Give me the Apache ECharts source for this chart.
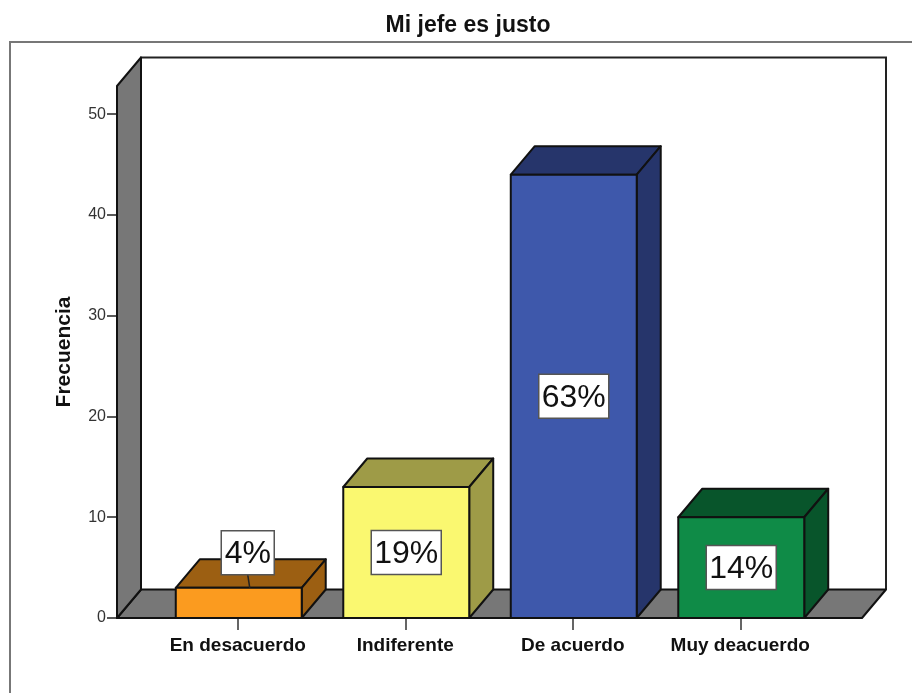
<!DOCTYPE html>
<html><head><meta charset="utf-8">
<style>html,body{margin:0;padding:0;background:#fff}#c{width:912px;height:693px}</style>
<script src="https://cdn.jsdelivr.net/npm/echarts@6/dist/echarts.min.js"></script>
</head><body><div id="c"></div>
<script>
const chartTitle = 'Mi jefe es justo';
const yName = 'Frecuencia';
const categories = ['En desacuerdo', 'Indiferente', 'De acuerdo', 'Muy deacuerdo'];
const frequencies = [3, 13, 44, 10];
const percentLabels = ['4%', '19%', '63%', '14%'];
const yTicks = [0, 10, 20, 30, 40, 50];
const frontColors = ['#FB9B1F', '#FAF870', '#3E58AB', '#0F8B47'];
const sideColors = ['#9C5F12', '#9E9B47', '#26356B', '#08552B'];

const FONT = '"Liberation Sans", Arial, sans-serif';
const DX = 24, DY = 28.5, AXIS_OFFSET = 37, FLOOR_RIGHT = 38;
const BAR_RATIO = 0.752, BAR_SHIFT = 1;
const LINE = { stroke: '#111', lineWidth: 2, lineJoin: 'round' };

function poly(points, fill, z2) {
  return { type: 'polygon', z2: z2 || 0, shape: { points },
    style: Object.assign({ fill }, LINE) };
}

function renderWalls(params, api) {
  const r = params.coordSys;
  const l = r.x - AXIS_OFFSET, b = r.y + r.height, t = r.y, rr = r.x + r.width + FLOOR_RIGHT;
  return { type: 'group', children: [
    { type: 'polyline', shape: { points: [[l + DX, b - DY], [l + DX, t - DY], [rr + DX, t - DY], [rr + DX, b - DY]] },
      style: { fill: '#fff', stroke: '#222', lineWidth: 2 } },
    poly([[l, b], [l + DX, b - DY], [rr + DX, b - DY], [rr, b]], '#777'),
    poly([[l, b], [l + DX, b - DY], [l + DX, t - DY], [l, t]], '#777')
  ] };
}

function renderBar(params, api) {
  const i = api.value(0), v = api.value(1);
  const base = api.coord([i, 0]), top = api.coord([i, v]);
  const w = api.size([1, 0])[0] * BAR_RATIO;
  const x0 = base[0] + BAR_SHIFT - w / 2, x1 = base[0] + BAR_SHIFT + w / 2, y0 = base[1], y1 = top[1];
  return { type: 'group', children: [
    poly([[x0, y1], [x0 + DX, y1 - DY], [x1 + DX, y1 - DY], [x1, y1]], sideColors[i]),
    poly([[x1, y0], [x1 + DX, y0 - DY], [x1 + DX, y1 - DY], [x1, y1]], sideColors[i]),
    poly([[x0, y0], [x1, y0], [x1, y1], [x0, y1]], frontColors[i])
  ] };
}

function renderLabel(params, api) {
  const i = api.value(0), v = api.value(1);
  const base = api.coord([i, 0]), top = api.coord([i, v]);
  const text = percentLabels[i];
  const small = v < 5;
  const h = 44, w = text.length > 2 ? 70 : 53;
  const cx = base[0] + (small ? 10 : 1);
  const cy = small ? top[1] - 13 - h / 2 : (base[1] + top[1]) / 2;
  const kids = [];
  if (small) kids.push({ type: 'line', shape: { x1: cx, y1: cy + h / 2, x2: cx + 2, y2: top[1] },
    style: { stroke: '#222', lineWidth: 1.5 } });
  kids.push({ type: 'rect', shape: { x: cx - w / 2, y: cy - h / 2, width: w, height: h },
    style: { fill: '#fff', stroke: '#555', lineWidth: 1.5 } });
  kids.push({ type: 'text', style: { x: cx, y: cy + 1.5, text, align: 'center', verticalAlign: 'middle',
    font: '32px ' + FONT, fill: '#111' } });
  return { type: 'group', children: kids };
}

const points = categories.map((c, i) => [i, frequencies[i]]);
const chart = echarts.init(document.getElementById('c'), null, { renderer: 'canvas' });
chart.setOption({
  animation: false,
  backgroundColor: '#fff',
  title: { text: chartTitle, left: 463, top: 9, textAlign: 'center',
    textStyle: { fontFamily: FONT, fontSize: 23, fontWeight: 'bold', color: '#111' } },
  graphic: [{ type: 'rect', silent: true, z: -10,
    shape: { x: 10, y: 42, width: 960, height: 720 },
    style: { fill: '#fff', stroke: '#777', lineWidth: 2 } }],
  grid: { left: 154, right: 88, top: 86, bottom: 75 },
  xAxis: { type: 'category', data: categories,
    axisLine: { show: false },
    axisTick: { show: true, alignWithLabel: true, length: 12, lineStyle: { color: '#333', width: 1.5 } },
    axisLabel: { interval: 0, margin: 18, fontFamily: FONT, fontSize: 19, fontWeight: 'bold', color: '#111' } },
  yAxis: { type: 'value', min: 0, max: 52.8, offset: AXIS_OFFSET,
    name: yName, nameLocation: 'middle', nameGap: 42, nameRotate: 90,
    nameTextStyle: { fontFamily: FONT, fontSize: 21, fontWeight: 'bold', color: '#111' },
    splitLine: { show: false }, axisLine: { show: false },
    axisTick: { show: true, length: 10, customValues: yTicks, lineStyle: { color: '#222', width: 1.5 } },
    axisLabel: { margin: 11, fontFamily: FONT, fontSize: 16, color: '#333', customValues: yTicks } },
  series: [
    { type: 'custom', z: 1, silent: true, clip: false, renderItem: renderWalls, data: [points[0]] },
    { type: 'custom', z: 2, silent: true, clip: false, renderItem: renderBar, data: points, encode: { x: 0, y: 1 } },
    { type: 'custom', z: 3, silent: true, clip: false, renderItem: renderLabel, data: points, encode: { x: 0, y: 1 } }
  ]
});
</script></body></html>
